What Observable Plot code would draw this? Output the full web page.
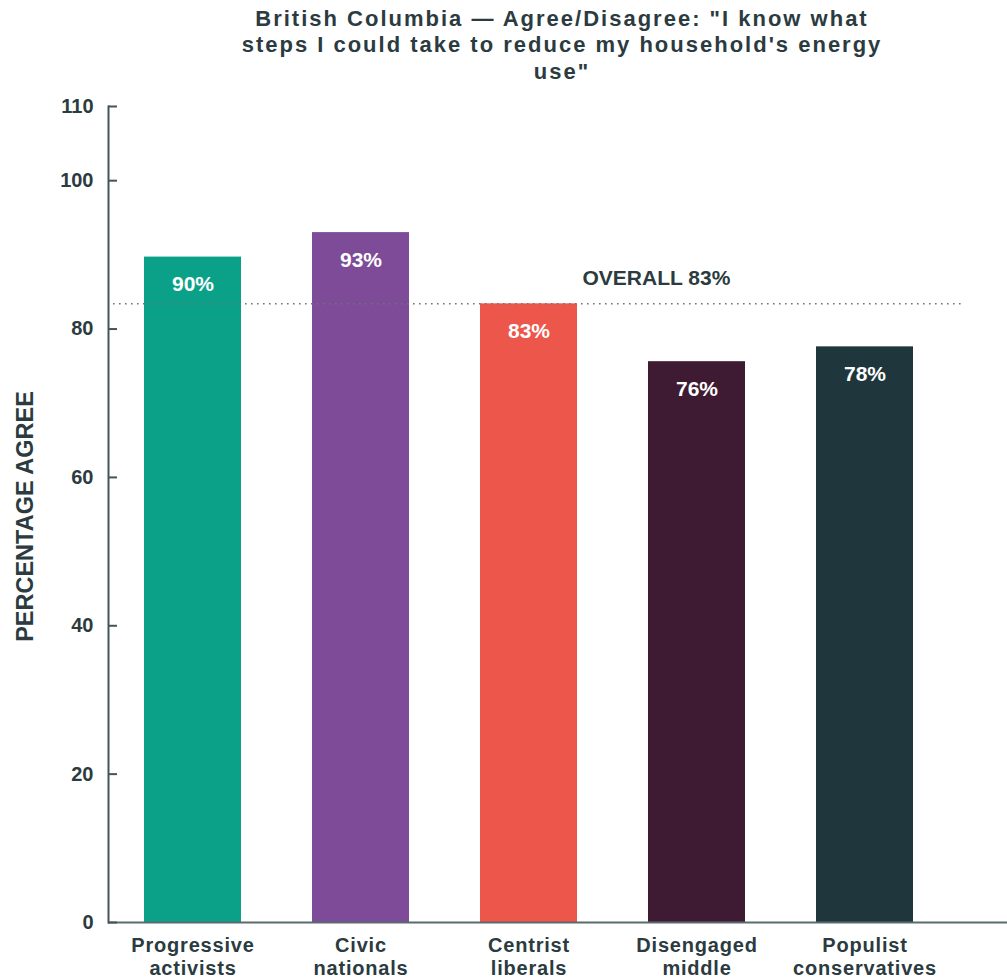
<!DOCTYPE html>
<html>
<head>
<meta charset="utf-8">
<script src="https://cdn.jsdelivr.net/npm/d3@7"></script>
<script src="https://cdn.jsdelivr.net/npm/@observablehq/plot@0.6"></script>
<style>
  body { margin: 0; background: #fff; font-family: "Liberation Sans", Arial, sans-serif; }
  #title {
    position: relative; left: 222px; width: 680px; height: 90px; box-sizing: border-box;
    padding-top: 6px; text-align: center; white-space: pre-line;
    font-size: 22px; line-height: 26.3px; font-weight: bold; letter-spacing: 2px; color: #2b3b3f;
  }
  #chart svg { display: block; }
  #chart g[aria-label="x-axis tick label"] text { letter-spacing: 0.8px; }
</style>
</head>
<body>
<div id="title"></div>
<div id="chart"></div>
<script>
// Share of each segment agreeing with the statement (percent)
const segments = ["Progressive activists", "Civic nationals", "Centrist liberals", "Disengaged middle", "Populist conservatives"];
const agreePct = [89.7, 93.0, 83.4, 75.6, 77.6];
const segmentColors = ["#0ba189", "#7d4b97", "#ed564a", "#3e1b33", "#1f373c"];
const overallPct = 83.4;
const yTicks = [0, 20, 40, 60, 80, 100, 110];
const titleLines = [
  "British Columbia \u2014 Agree/Disagree: \"I know what",
  "steps I could take to reduce my household's energy",
  "use\""
];

document.getElementById("title").textContent = titleLines.join("\n");

const rows = segments.map((segment, i) => ({segment, pct: agreePct[i]}));
const pctFmt = d3.format(".0f");
const ink = "#2b3b3f";
const axisInk = "#44555a";

const chart = Plot.plot({
  width: 1007,
  height: 890,
  marginTop: 16,
  marginBottom: 58,
  marginLeft: 108,
  marginRight: 0,
  style: {fontFamily: "'Liberation Sans', Arial, sans-serif", color: ink, background: "#fff"},
  x: {domain: segments, range: [107, 950], paddingInner: 0.42, paddingOuter: 0.21, label: null},
  y: {domain: [0, 110], label: null},
  color: {domain: segments, range: segmentColors},
  marks: [
    Plot.barY(rows, {x: "segment", y: "pct", fill: "segment"}),
    Plot.ruleY([overallPct], {stroke: "#6b7679", strokeWidth: 1.6, strokeDasharray: "1.6 4.4", insetLeft: 5, insetRight: 46}),
    Plot.ruleY([0], {stroke: "#5b6a6e", strokeWidth: 2}),
    Plot.frame({anchor: "left", stroke: axisInk, strokeWidth: 2}),
    Plot.axisY({ticks: yTicks, tickSize: -9, tickPadding: 24, stroke: axisInk, strokeWidth: 2,
      fontSize: 20, fontWeight: "bold", fill: ink, label: null}),
    Plot.axisX({tickSize: 0, tickPadding: 13, fontSize: 20, fontWeight: "bold", fill: ink,
      lineHeight: 1.15, tickFormat: d => d.replace(" ", "\n"), label: null}),
    Plot.text(rows, {x: "segment", y: "pct", text: d => `${pctFmt(d.pct)}%`, fill: "white",
      fontSize: 21, fontWeight: "bold", lineAnchor: "top", dy: 19}),
    Plot.text([overallPct], {y: d => d, text: d => `OVERALL ${pctFmt(d)}%`, frameAnchor: "left",
      textAnchor: "start", dx: 474, lineAnchor: "bottom", dy: -19, fill: ink, fontSize: 21, fontWeight: "bold"}),
    Plot.text(["PERCENTAGE AGREE"], {frameAnchor: "left", textAnchor: "middle", rotate: -90, dx: -83, dy: 2,
      text: d => d, fill: ink, fontSize: 23.5, fontWeight: "bold"})
  ]
});
document.getElementById("chart").appendChild(chart);
</script>
</body>
</html>
